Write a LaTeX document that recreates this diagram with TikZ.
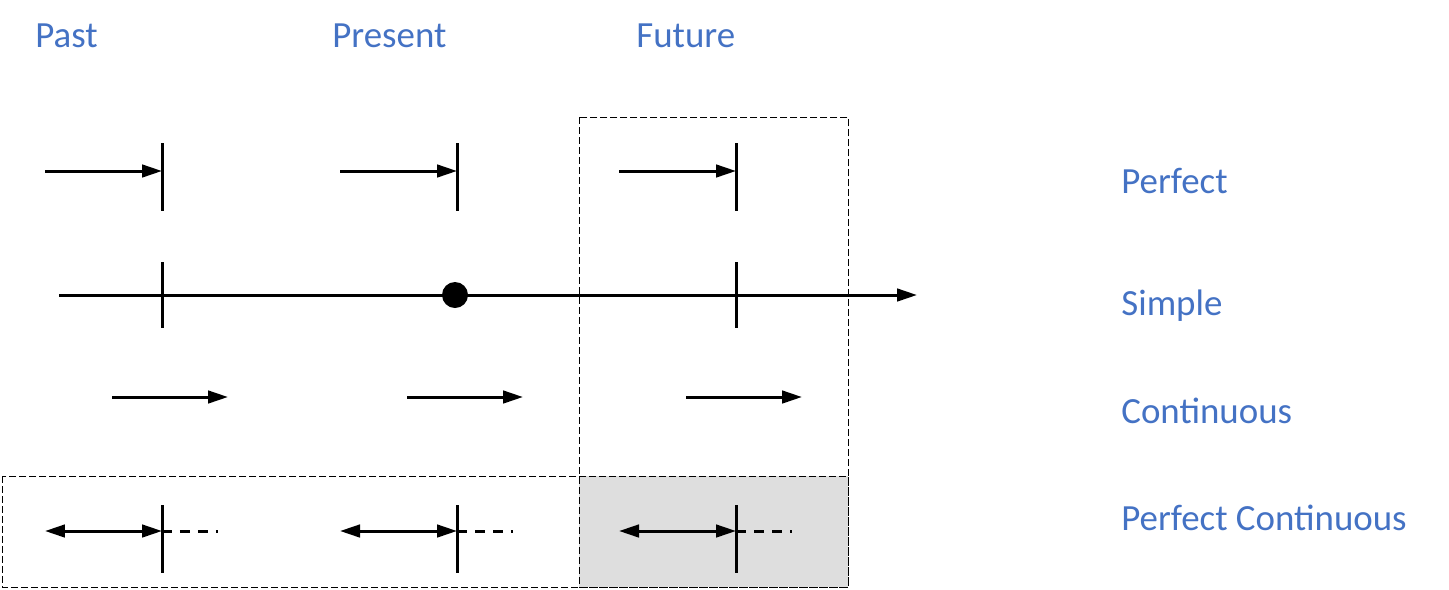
\documentclass[tikz,border=0pt]{standalone}
\usepackage{fontspec}
\setmainfont{Carlito}
\usetikzlibrary{calc,arrows.meta}
\definecolor{tenseblue}{HTML}{4472C4}
\definecolor{futuregrey}{HTML}{DEDEDE}

\begin{document}
\begin{tikzpicture}[x=0.02cm, y=-0.02cm,
    tline/.style={line width=0.06cm},
    tarrow/.style={tline, -{Triangle[length=0.4cm, width=0.25cm]}},
    tboth/.style={tline, {Triangle[length=0.4cm, width=0.25cm]}-{Triangle[length=0.4cm, width=0.25cm]}},
    tdash/.style={tline, dash pattern=on 0.2cm off 0.16cm},
    tframe/.style={line width=0.02cm, dash pattern=on 0.14cm off 0.06cm},
    tense/.style={text=tenseblue, inner sep=0, anchor=base west, font=\fontsize{21}{25}\selectfont}]
    \useasboundingbox (0, 0) rectangle (1449, 589);
    \def\Xa{162} \def\Xb{457} \def\Xc{736}
    \def\Yp{171} \def\Ys{295} \def\Yc{397} \def\Yq{531}
    \def\L{117} \def\D{56}
    \coordinate (pa) at (\Xa, \Yp);
    \coordinate (pb) at (\Xb, \Yp);
    \coordinate (pc) at (\Xc, \Yp);
    \coordinate (sa) at (\Xa, \Ys);
    \coordinate (sb) at (\Xb - 2, \Ys);
    \coordinate (sc) at (\Xc, \Ys);
    \coordinate (ca) at (\Xa, \Yc);
    \coordinate (cb) at (\Xb, \Yc);
    \coordinate (cc) at (\Xc, \Yc);
    \coordinate (qa) at (\Xa, \Yq);
    \coordinate (qb) at (\Xb, \Yq);
    \coordinate (qc) at (\Xc, \Yq);
    \coordinate (start) at (59, \Ys);
    \coordinate (end) at (917, \Ys);

    \fill[futuregrey] (579, 476) rectangle (848, 587);
    \draw[tframe] (579, 117) rectangle (848, 587);
    \draw[tframe] (2, 476) rectangle (848, 587);

    \node[tense] (past) at (35, 47) {Past};
    \node[tense] (present) at (332, 47) {Present};
    \node[tense] (future) at (636, 47) {Future};
    \node[tense] (perfect) at (1121, 193) {Perfect};
    \node[tense] (simple) at (1121, 315) {Simple};
    \node[tense] (continuous) at (1121, 423) {Continuous};
    \node[tense] (perfcont) at (1121, 530) {Perfect Continuous};

    \draw[tarrow] ($ (pa) - (\L, 0) $) -- (pa);
    \draw[tarrow] ($ (pb) - (\L, 0) $) -- (pb);
    \draw[tarrow] ($ (pc) - (\L, 0) $) -- (pc);
    \draw[tline] ($ (pa) + (0, -28) $) -- ($ (pa) + (0, 40) $);
    \draw[tline] ($ (pb) + (0, -28) $) -- ($ (pb) + (0, 40) $);
    \draw[tline] ($ (pc) + (0, -28) $) -- ($ (pc) + (0, 40) $);

    \draw[tarrow] (start) -- (end);
    \draw[tline] ($ (sa) + (0, -33) $) -- ($ (sa) + (0, 33) $);
    \draw[tline] ($ (sc) + (0, -33) $) -- ($ (sc) + (0, 33) $);
    \fill (sb) circle (13);

    \draw[tarrow] ($ (ca) - (50, 0) $) -- ($ (ca) + (66, 0) $);
    \draw[tarrow] ($ (cb) - (50, 0) $) -- ($ (cb) + (66, 0) $);
    \draw[tarrow] ($ (cc) - (50, 0) $) -- ($ (cc) + (66, 0) $);

    \draw[tboth] ($ (qa) - (\L, 0) $) -- (qa);
    \draw[tboth] ($ (qb) - (\L, 0) $) -- (qb);
    \draw[tboth] ($ (qc) - (\L, 0) $) -- (qc);
    \draw[tdash] (qa) -- ($ (qa) + (\D, 0) $);
    \draw[tdash] (qb) -- ($ (qb) + (\D, 0) $);
    \draw[tdash] (qc) -- ($ (qc) + (\D, 0) $);
    \draw[tline] ($ (qa) + (0, -26) $) -- ($ (qa) + (0, 42) $);
    \draw[tline] ($ (qb) + (0, -26) $) -- ($ (qb) + (0, 42) $);
    \draw[tline] ($ (qc) + (0, -26) $) -- ($ (qc) + (0, 42) $);
\end{tikzpicture}
\end{document}
